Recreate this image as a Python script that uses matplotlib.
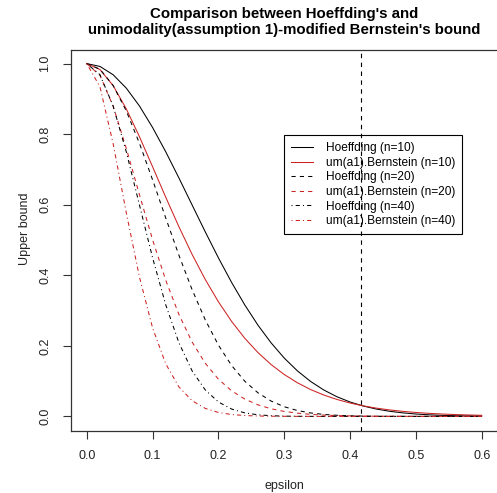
"""Hoeffding vs unimodality-modified Bernstein upper bounds, R base-graphics look."""
import matplotlib

matplotlib.use("Agg")
import matplotlib.pyplot as plt  # noqa: E402

plt.rcParams["font.family"] = ["Liberation Sans", "DejaVu Sans"]

# values
epsilon = [0.00, 0.02, 0.04, 0.06, 0.08, 0.10, 0.12, 0.14, 0.16, 0.18, 0.20,
           0.22, 0.24, 0.26, 0.28, 0.30, 0.32, 0.34, 0.36, 0.38, 0.40,
           0.42, 0.44, 0.46, 0.48, 0.50, 0.52, 0.54, 0.56, 0.58, 0.60]

hoeff_10 = [1.0, 0.9920, 0.9685, 0.9305, 0.8799, 0.8187, 0.7498, 0.6757, 0.5993,
            0.5231, 0.4493, 0.3798, 0.3160, 0.2587, 0.2085, 0.1653, 0.1290,
            0.0991, 0.0749, 0.0557, 0.0408, 0.0294, 0.0208, 0.0145, 0.0100,
            0.0067, 0.0045, 0.0029, 0.0019, 0.0012, 0.0007]
bern_10 = [1.0, 0.9832, 0.9377, 0.8717, 0.7928, 0.7074, 0.6210, 0.5374, 0.4592,
           0.3880, 0.3247, 0.2693, 0.2215, 0.1810, 0.1470, 0.1187, 0.0953,
           0.0761, 0.0606, 0.0480, 0.0379, 0.0298, 0.0234, 0.0183, 0.0143,
           0.0111, 0.0086, 0.0067, 0.0052, 0.0040, 0.0031]
hoeff_20 = [1.0, 0.9841, 0.9380, 0.8659, 0.7741, 0.6703, 0.5621, 0.4566, 0.3592,
            0.2736, 0.2019, 0.1443, 0.0998, 0.0669, 0.0435, 0.0273, 0.0166,
            0.0098, 0.0056, 0.0031, 0.0017, 0.0009, 0.0004, 0.0002, 0.0001,
            0.0, 0.0, 0.0, 0.0, 0.0, 0.0]
bern_20 = [1.0, 0.9666, 0.8793, 0.7599, 0.6284, 0.5004, 0.3856, 0.2887, 0.2108,
           0.1506, 0.1054, 0.0725, 0.0491, 0.0328, 0.0216, 0.0141, 0.0091,
           0.0058, 0.0037, 0.0023, 0.0014, 0.0009, 0.0005, 0.0003, 0.0002,
           0.0001, 0.0001, 0.0, 0.0, 0.0, 0.0]
hoeff_40 = [1.0, 0.9685, 0.8799, 0.7498, 0.5993, 0.4493, 0.3160, 0.2085, 0.1290,
            0.0749, 0.0408, 0.0208, 0.0100, 0.0045, 0.0019, 0.0007, 0.0003,
            0.0001, 0.0, 0.0, 0.0, 0.0, 0.0, 0.0, 0.0, 0.0, 0.0, 0.0, 0.0, 0.0, 0.0]
bern_40 = [1.0, 0.9343, 0.7732, 0.5774, 0.3949, 0.2504, 0.1487, 0.0834, 0.0444,
           0.0227, 0.0111, 0.0053, 0.0024, 0.0011, 0.0005, 0.0002, 0.0001,
           0.0, 0.0, 0.0, 0.0, 0.0, 0.0, 0.0, 0.0, 0.0, 0.0, 0.0, 0.0, 0.0, 0.0]

crossing_eps = 0.4167  # where the n=10 curves meet

RED = "#cc2222"
DASH = (0, (4, 4))
DOTDASH = (0, (1, 3, 4, 3))
series = [
    ("Hoeffding (n=10)", hoeff_10, "black", "-"),
    ("um(a1).Bernstein (n=10)", bern_10, RED, "-"),
    ("Hoeffding (n=20)", hoeff_20, "black", DASH),
    ("um(a1).Bernstein (n=20)", bern_20, RED, DASH),
    ("Hoeffding (n=40)", hoeff_40, "black", DOTDASH),
    ("um(a1).Bernstein (n=40)", bern_40, RED, DOTDASH),
]

fig = plt.figure(figsize=(4.97, 4.93), dpi=100)
ax = fig.add_axes([71 / 497, 1 - 430.5 / 493, 426.5 / 497, 381 / 493])

for label, ys, col, ls in series:
    ax.plot(epsilon, ys, color=col, ls=ls, lw=0.75, label=label)
ax.axvline(crossing_eps, color="black", ls=DASH, lw=0.8)

ax.set_xlim(-0.024, 0.624)
ax.set_ylim(-0.04, 1.04)
ax.set_xticks([0.0, 0.1, 0.2, 0.3, 0.4, 0.5, 0.6])
ax.set_yticks([0.0, 0.2, 0.4, 0.6, 0.8, 1.0])
ax.set_xticklabels([f"{v:.1f}" for v in ax.get_xticks()])
ax.set_yticklabels([f"{v:.1f}" for v in ax.get_yticks()], rotation=90, va="center")
ax.tick_params(direction="out", length=6, width=0.8, labelsize=9, pad=8,
               color="#333333", labelcolor="#222222")
for sp in ax.spines.values():
    sp.set_linewidth(0.9)
    sp.set_color("#333333")

ax.set_xlabel("epsilon", fontsize=9, labelpad=13, color="#222222")
ax.set_ylabel("Upper bound", fontsize=9, color="#222222")
ax.yaxis.set_label_coords(-0.093, 0.53)
ax.set_title("Comparison between Hoeffding's and\n"
             "unimodality(assumption 1)-modified Bernstein's bound",
             fontsize=10.8, fontweight="bold", pad=11, linespacing=1.2)

leg = ax.legend(loc="upper left", bbox_to_anchor=((284 - 71) / 426.5, 1 - (135 - 49.5) / 381),
                fontsize=8.6, frameon=True, fancybox=False, edgecolor="black",
                facecolor="none", framealpha=1, borderpad=0.6, labelspacing=0.22,
                handlelength=1.85, handletextpad=1.05, borderaxespad=0)
leg.get_frame().set_linewidth(0.8)

fig.savefig("out.png", dpi=100)
